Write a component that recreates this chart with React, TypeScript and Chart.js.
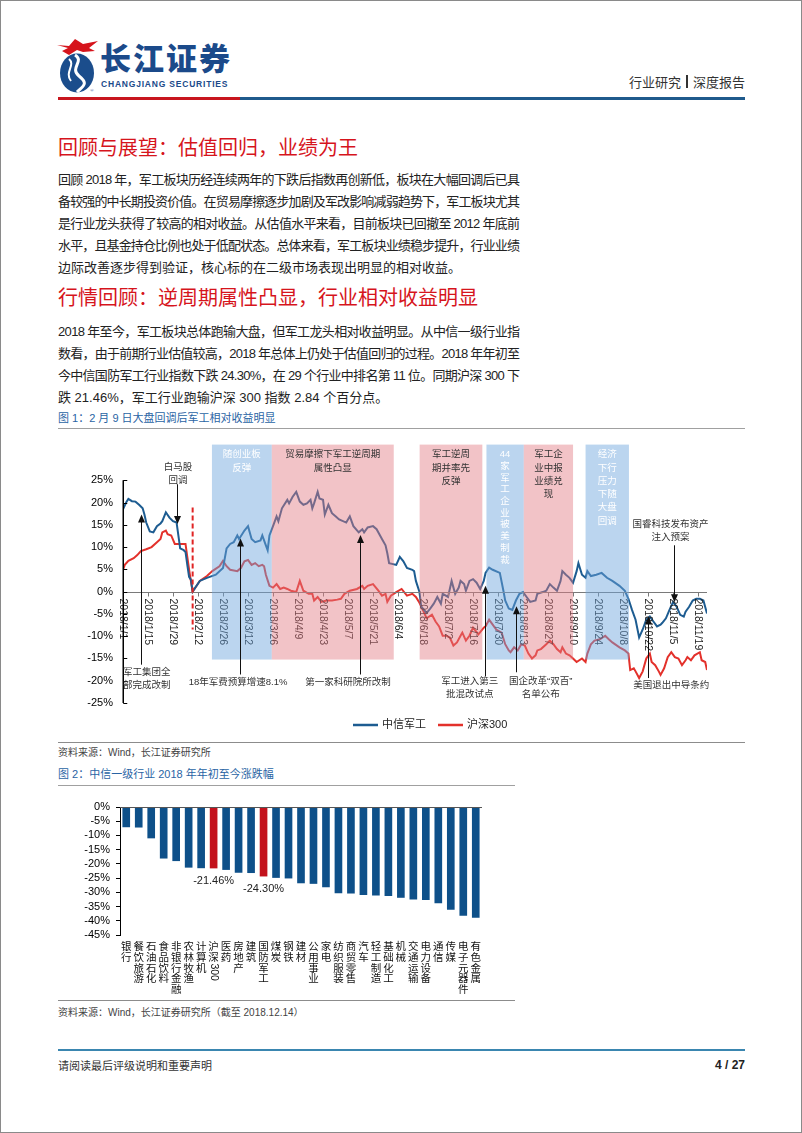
import React, { useEffect, useLayoutEffect, useRef } from 'react';
import { Chart, registerables } from 'chart.js';

Chart.register(...registerables);

const FONT = '"Liberation Sans", "Noto Sans CJK SC", sans-serif';
const CJK = '"Liberation Sans", "Noto Sans CJK SC", sans-serif';

// ---------- Figure 1 data (days since 2018/1/1, % change) ----------
const junDays = [0, 2, 3, 5, 7, 9, 11, 12, 13, 15, 17, 19, 21, 22, 24, 26, 28, 30, 31, 32, 34, 35, 36, 37, 38, 39,
  43, 47, 52, 56, 58, 60, 62, 64, 65, 68, 70, 72, 74, 77, 78, 80, 81, 82, 84, 86, 87, 89, 92, 93, 95, 97, 99, 101,
  103, 105, 106, 107, 109, 110, 112, 113, 115, 117, 119, 121, 125, 127, 129, 132, 134, 135, 137, 140, 142, 145,
  147, 148, 149, 153, 155, 157, 159, 162, 163, 164, 166, 167, 170, 172, 174, 176, 178, 179, 182, 184, 186, 188,
  189, 191, 192, 194, 196, 198, 200, 202, 203, 205, 207, 211, 213, 214, 216, 218, 220, 222, 224, 226, 228, 231,
  232, 235, 237, 239, 241, 243, 245, 246, 248, 250, 252, 254, 255, 257, 259, 260, 262, 265, 268, 271, 274, 278,
  281, 283, 285, 287, 289, 291, 293, 295, 297, 299, 301, 302, 304, 306, 308, 310, 312, 314, 315, 317, 319, 321,
  323, 325, 327];
const junValues = [18.5, 20.2, 20.8, 20.3, 20.2, 19.5, 18.7, 17.3, 15.5, 13.5, 13.3, 14.7, 15.3, 15.8, 17.8, 16.6,
  15.8, 15.5, 12.6, 9.7, 9.3, 8.9, 6.0, 3.3, 2.7, 0.0,
  2.4, 3.1, 3.8, 5.3, 9.7, 10.7, 11.1, 12.6, 11.8, 13.7, 14.7, 11.8, 11.1, 11.5, 12.6, 10.4, 9.3, 12.6, 14.7, 16.9,
  15.8, 18.7, 20.6, 19.8, 21.3, 22.4, 20.2, 19.5,
  19.8, 20.6, 18.7, 19.8, 22.4, 20.9, 20.6, 17.3, 19.5, 17.6, 16.9, 16.2, 15.5, 16.9, 14.7, 13.3, 14.0, 13.3, 14.4,
  14.7, 14.0, 11.8,
  10.4, 8.6, 6.4, 6.0, 7.8, 6.8, 5.3, 4.9, 4.6, 2.4, -0.1, -3.4, -4.8, -3.8, -2.7, -1.2, -2.7, -0.5, -1.2, 2.4, -0.5,
  0.9,
  2.4, 1.7, 0.2, 2.4, 2.8, 2.0, 0.6, 2.4, 4.2, 5.4, 4.9, 4.2, 0.2, -2.0, -3.8, -4.1, -2.0, -0.5, -0.1, -1.2, -2.3,
  -2.0,
  -0.5, -0.1, 0.2, 1.7, 0.9, 0.2, 2.4, 4.6, 3.8, 3.1, 2.0, 4.6, 6.4, 3.8, 3.1, 4.6, 3.5, 3.8, 4.2, 3.1, 2.4, 1.3,
  0.2, -1.6, -4.1, -6.3, -10.3, -8.5, -6.3, -5.6, -6.7, -7.8, -7.4, -7.0, -6.0, -4.1, -2.3, -3.4, -5.2, -5.6, -4.5,
  -3.4, -2.0, -1.6,
  -1.6, -2.0, -4.9];

const hsDays = [0, 1, 3, 6, 8, 10, 13, 16, 19, 21, 22, 24, 25, 27, 29, 32, 35, 36, 37, 38, 39,
  43, 47, 50, 54, 56, 58, 60, 64, 66, 68, 70, 72, 74, 76, 78, 79, 80, 82, 84, 86, 88, 90, 92, 94, 97, 99, 101,
  104, 106, 107, 109, 111, 114, 117, 120, 122, 124, 127, 131, 134, 135, 137, 140, 143, 145, 147, 148, 150, 153,
  156, 159, 162, 164, 166, 168, 170, 173, 175, 177, 179, 181, 183, 185, 187, 189, 190, 192, 194, 196, 199, 202,
  203, 205, 207, 209, 212, 214, 216, 217, 219, 221, 223, 225, 227, 229, 231, 232, 234, 237, 239, 241, 243, 245,
  246, 248, 250, 252, 254, 257, 259, 260, 262, 264, 267, 270, 272, 274, 278, 281, 283, 284, 286, 287, 289, 291,
  293, 295, 296, 298, 300, 301, 303, 305, 307, 309, 311, 313, 315, 316, 318, 320, 323, 324, 326, 327];
const hsValues = [4.9, 6.0, 6.9, 7.5, 8.2, 9.1, 9.5, 10.0, 11.1, 11.8, 13.3, 13.7, 12.9, 12.6, 10.7, 10.7, 10.7,
  7.8, 5.0, 2.4, 0.0,
  2.4, 3.5, 4.6, 5.7, 6.9, 5.7, 4.9, 4.6, 5.3, 6.8, 7.1, 6.0, 6.4, 5.7, 6.0, 5.7, 3.8, 1.3, 0.9, 1.7, 0.6, 0.9, 0.6,
  0.2, -0.1, 2.4, 0.2,
  -0.5, -0.5, -2.0, -1.2, -2.3, -2.0, -2.0, -1.8, -1.6, -0.5, 0.2, 0.6, 1.3, 0.6, 1.3, 1.7, 0.2, -0.9, -0.5, -2.3,
  -0.9, -0.1,
  0.6, -0.9, -0.5, -1.2, -2.5, -4.2, -6.0, -5.2, -6.7, -7.8, -9.9, -9.9, -10.3, -12.1, -11.4, -9.9, -9.2, -11.0,
  -9.9, -8.1, -9.6, -8.1,
  -7.8, -6.3, -7.4, -8.5, -9.2, -11.8, -13.2, -13.6, -12.5, -13.2, -11.8, -12.1, -13.9, -15.0, -14.3, -13.2,
  -12.9, -11.8, -11.0, -11.8, -12.9, -13.6,
  -12.5, -13.9, -14.3, -15.0, -15.8, -15.0, -15.8, -13.9, -11.8, -11.0, -10.7, -9.9, -10.7, -11.4, -12.5, -13.2,
  -13.9, -17.6, -17.2, -17.9, -19.4, -17.9,
  -15.0, -13.9, -15.8, -16.5, -17.9, -18.7, -17.2, -14.7, -13.6, -14.7, -15.0, -16.5, -15.4, -14.7, -15.4, -14.3,
  -13.6, -15.4, -15.8, -17.6];

const xTickDays = [0, 14, 28, 42, 56, 70, 84, 98, 112, 126, 140, 154, 168, 182, 196, 210, 224, 238, 252, 266, 280,
  294, 308, 322];
const xTickLabels = ['2018/1/1', '2018/1/15', '2018/1/29', '2018/2/12', '2018/2/26', '2018/3/12', '2018/3/26',
  '2018/4/9', '2018/4/23', '2018/5/7', '2018/5/21', '2018/6/4', '2018/6/18', '2018/7/2', '2018/7/16', '2018/7/30',
  '2018/8/13', '2018/8/27', '2018/9/10', '2018/9/24', '2018/10/8', '2018/10/22', '2018/11/5', '2018/11/19'];
const yTicks1 = [25, 20, 15, 10, 5, 0, -5, -10, -15, -20, -25];
const xMax1 = 327;
const yMin1 = -25;
const yMax1 = 33;

// shaded periods
const boxStart = [49.8, 83.3, 166.1, 203.5, 224.4, 259.0];
const boxEnd = [83.3, 151.6, 201.2, 224.4, 252.0, 283.3];
const boxKind = ['blue', 'pink', 'pink', 'blue', 'pink', 'blue'];
const boxTop = 33;
const boxBottom = -15.25;
const boxTexts = [
  ['随创业板', '反弹'],
  ['贸易摩擦下军工逆周期', '属性凸显'],
  ['军工逆周', '期并率先', '反弹'],
  ['44', '家', '军', '工', '企', '业', '被', '美', '制', '裁'],
  ['军工企', '业中报', '业绩兑', '现'],
  ['经济', '下行', '压力', '下随', '大盘', '回调'],
];

// event annotations (day, start value, arrow tip value)
const noteArrowDays = [10.3, 30.2, 65.3, 132.5, 202.5, 220.3, 294.2, 308.5];
const noteArrowStart = [-16.4, 24.1, -18.6, -18.6, -19.0, -18.1, -19.4, 10.4];
const noteArrowTip = [17.3, 15.2, 11.9, 12.7, 1.3, -3.3, -5.6, -2.4];
const noteTextDays = [13.3, 30.8, 64.4, 126.0, 194.1, 233.9, 307.0, 306.5];
const noteTextValues = [-18.1, 28.0, -20.3, -20.3, -20.1, -20.1, -21.0, 15.2];
const noteLines = [
  ['军工集团全', '部完成改制'],
  ['白马股', '回调'],
  ['18年军费预算增速8.1%'],
  ['第一家科研院所改制'],
  ['军工进入第三', '批混改试点'],
  ['国企改革“双百”', '名单公布'],
  ['美国退出中导条约'],
  ['国睿科技发布资产', '注入预案'],
];
const dropDay = 39; // 2018/2/9
const dropFrom = 18.9;
const dropTo = -8.5;

const seriesNames = ['中信军工', '沪深300'];

// ---------- Figure 2 data ----------
const industries = ['银行', '餐饮旅游', '石油石化', '食品饮料', '非银行金融', '农林牧渔', '计算机', '沪深300', '医药',
  '房地产', '建筑', '国防军工', '煤炭', '钢铁', '建材', '公用事业', '家电', '纺织服装', '商贸零售', '汽车', '轻工制造',
  '基础化工', '机械', '交通运输', '电力设备', '通信', '传媒', '电子元器件', '有色金属'];
const changes = [-7.0, -7.1, -10.9, -18.0, -18.9, -21.2, -21.4, -21.46, -22.0, -23.0, -23.1, -24.30, -24.8, -25.0,
  -26.7, -26.9, -28.1, -30.2, -30.3, -30.8, -31.0, -31.2, -31.8, -32.4, -32.6, -33.7, -36.0, -38.1, -38.8];
const highlighted = ['沪深300', '国防军工'];
const yTicks2 = [0, -5, -10, -15, -20, -25, -30, -35, -40, -45];

const BLUE1 = '#1d5c91';
const RED1 = '#e3312b';
const PINK_FILL = 'rgba(226,122,130,0.45)';
const BLUE_FILL = 'rgba(110,165,222,0.47)';
const BAR_BLUE = '#0e5089';
const BAR_RED = '#c3121c';

function drawArrow(ctx: CanvasRenderingContext2D, x: number, yStart: number, yTip: number) {
  const dir = yTip < yStart ? -1 : 1;
  ctx.beginPath();
  ctx.moveTo(x, yStart);
  ctx.lineTo(x, yTip - dir * 6);
  ctx.stroke();
  ctx.beginPath();
  ctx.moveTo(x, yTip);
  ctx.lineTo(x - 3.5, yTip - dir * 8);
  ctx.lineTo(x + 3.5, yTip - dir * 8);
  ctx.closePath();
  ctx.fill();
}

const overlay1 = {
  id: 'overlay1',
  afterDatasetsDraw(chart: any) {
    const { ctx, scales } = chart;
    const xs = scales.x;
    const ys = scales.y;
    const X = (d: number) => xs.getPixelForValue(d);
    const Y = (v: number) => ys.getPixelForValue(v);
    ctx.save();
    // category axis at 0%
    const y0 = Math.round(Y(0)) + 0.5;
    ctx.strokeStyle = '#7a7a7a';
    ctx.lineWidth = 1;
    ctx.beginPath();
    ctx.moveTo(X(0), y0);
    ctx.lineTo(X(xMax1), y0);
    ctx.stroke();
    xTickDays.forEach((d) => {
      const px = Math.round(X(d)) + 0.5;
      ctx.beginPath();
      ctx.moveTo(px, y0);
      ctx.lineTo(px, y0 + 4);
      ctx.stroke();
    });
    ctx.fillStyle = '#222';
    ctx.font = `10.5px ${FONT}`;
    ctx.textAlign = 'left';
    ctx.textBaseline = 'middle';
    xTickDays.forEach((d, i) => {
      ctx.save();
      ctx.translate(X(d), y0 + 6);
      ctx.rotate(Math.PI / 2);
      ctx.fillText(xTickLabels[i], 0, 0);
      ctx.restore();
    });
    // shaded periods (drawn over the lines, translucent)
    const top = Y(boxTop);
    const bottom = Y(boxBottom);
    boxStart.forEach((s, i) => {
      ctx.fillStyle = boxKind[i] === 'pink' ? PINK_FILL : BLUE_FILL;
      ctx.fillRect(X(s), top, X(boxEnd[i]) - X(s), bottom - top);
    });
    ctx.font = `9.5px ${CJK}`;
    ctx.textAlign = 'center';
    boxTexts.forEach((lines, i) => {
      const cx = (X(boxStart[i]) + X(boxEnd[i])) / 2;
      const step = lines.length > 6 ? 11.7 : 13.3;
      ctx.fillStyle = boxKind[i] === 'pink' ? '#333' : '#ffffff';
      lines.forEach((t, k) => ctx.fillText(t, cx, top + 10 + k * step));
    });
    // value axis line
    ctx.strokeStyle = '#000';
    ctx.lineWidth = 1.5;
    const ax = Math.round(X(0)) + 0.25;
    ctx.beginPath();
    ctx.moveTo(ax, Y(25));
    ctx.lineTo(ax, Y(-25));
    ctx.stroke();
    ctx.lineWidth = 1;
    yTicks1.forEach((v) => {
      const py = Math.round(Y(v)) + 0.5;
      ctx.beginPath();
      ctx.moveTo(ax, py);
      ctx.lineTo(ax + 4, py);
      ctx.stroke();
    });
    // 2/9 dashed line
    ctx.strokeStyle = '#e02424';
    ctx.lineWidth = 2;
    ctx.setLineDash([5, 3]);
    ctx.beginPath();
    ctx.moveTo(X(dropDay), Y(dropFrom));
    ctx.lineTo(X(dropDay), Y(dropTo));
    ctx.stroke();
    ctx.setLineDash([]);
    // annotations
    ctx.strokeStyle = '#111';
    ctx.fillStyle = '#111';
    ctx.lineWidth = 1;
    noteArrowDays.forEach((d, i) => {
      drawArrow(ctx, Math.round(X(d)) + 0.5, Y(noteArrowStart[i]), Y(noteArrowTip[i]));
    });
    ctx.fillStyle = '#333';
    ctx.font = `9.5px ${CJK}`;
    ctx.textAlign = 'center';
    ctx.textBaseline = 'middle';
    noteLines.forEach((lines, i) => {
      lines.forEach((t, k) => ctx.fillText(t, X(noteTextDays[i]), Y(noteTextValues[i]) + k * 13.3));
    });
    // legend
    const ly = chart.height - 17;
    const lx = [295, 380];
    const colors = [BLUE1, RED1];
    ctx.font = `11px ${CJK}`;
    ctx.textAlign = 'left';
    seriesNames.forEach((name, i) => {
      ctx.strokeStyle = colors[i];
      ctx.lineWidth = 2.5;
      ctx.beginPath();
      ctx.moveTo(lx[i], ly);
      ctx.lineTo(lx[i] + 25, ly);
      ctx.stroke();
      ctx.fillStyle = '#222';
      ctx.fillText(name, lx[i] + 29, ly);
    });
    ctx.restore();
  },
};

function drawVertical(ctx: CanvasRenderingContext2D, text: string, cx: number, top: number, step: number) {
  const parts = text.match(/[0-9A-Za-z.]+|./g) || [];
  let y = top;
  parts.forEach((p) => {
    if (/^[0-9A-Za-z.]+$/.test(p)) {
      const w = ctx.measureText(p).width;
      ctx.save();
      ctx.translate(cx, y);
      ctx.rotate(Math.PI / 2);
      ctx.textAlign = 'left';
      ctx.textBaseline = 'middle';
      ctx.fillText(p, 0, 0);
      ctx.restore();
      y += w + 1;
    } else {
      ctx.textAlign = 'center';
      ctx.textBaseline = 'top';
      ctx.fillText(p, cx, y);
      y += step;
    }
  });
}

const overlay2 = {
  id: 'overlay2',
  afterDatasetsDraw(chart: any) {
    const { ctx, scales, chartArea } = chart;
    const xs = scales.x;
    const ys = scales.y;
    ctx.save();
    const y0 = Math.round(ys.getPixelForValue(0)) + 0.5;
    ctx.strokeStyle = '#555';
    ctx.lineWidth = 1;
    ctx.beginPath();
    ctx.moveTo(chartArea.left, y0);
    ctx.lineTo(chartArea.right, y0);
    ctx.stroke();
    ctx.fillStyle = '#111';
    ctx.font = `10.5px ${CJK}`;
    industries.forEach((name, i) => {
      drawVertical(ctx, name, xs.getPixelForValue(i), chartArea.bottom + 7, 10.7);
    });
    ctx.font = `11px ${FONT}`;
    ctx.textAlign = 'center';
    ctx.textBaseline = 'middle';
    ctx.fillStyle = '#222';
    industries.forEach((name, i) => {
      if (highlighted.includes(name)) {
        ctx.fillText(changes[i].toFixed(2) + '%', xs.getPixelForValue(i), ys.getPixelForValue(changes[i]) + 12.5);
      }
    });
    ctx.restore();
  },
};

const pageText: React.CSSProperties = {
  position: 'absolute',
  whiteSpace: 'nowrap',
  fontFamily: CJK,
  color: '#222',
};

export default function App() {
  const c1 = useRef<HTMLCanvasElement>(null);
  const c2 = useRef<HTMLCanvasElement>(null);
  const pageRef = useRef<HTMLDivElement>(null);

  useLayoutEffect(() => {
    const root = pageRef.current;
    if (!root) return;
    root.querySelectorAll<HTMLElement>('[data-fit]').forEach((el) => {
      const target = Number(el.dataset.fit);
      el.style.letterSpacing = '0px';
      const w = el.getBoundingClientRect().width;
      const n = Array.from(el.textContent || '').length;
      if (n > 1) el.style.letterSpacing = `${(target - w) / (n - 1)}px`;
    });
  }, []);

  useEffect(() => {
    const charts: Chart[] = [];
    if (c1.current) {
      charts.push(new Chart(c1.current, {
        type: 'line',
        data: {
          datasets: [
            {
              label: seriesNames[0],
              data: junDays.map((d, i) => ({ x: d, y: junValues[i] })),
              borderColor: BLUE1,
              borderWidth: 2,
              pointRadius: 0,
              tension: 0,
            },
            {
              label: seriesNames[1],
              data: hsDays.map((d, i) => ({ x: d, y: hsValues[i] })),
              borderColor: RED1,
              borderWidth: 2,
              pointRadius: 0,
              tension: 0,
            },
          ],
        },
        options: {
          animation: false,
          responsive: false,
          layout: { padding: { top: 8, right: 39, bottom: 0, left: 0 } },
          plugins: { legend: { display: false }, tooltip: { enabled: false } },
          scales: {
            x: {
              type: 'linear',
              min: 0,
              max: xMax1,
              grid: { display: false, drawTicks: false },
              border: { display: false },
              ticks: { display: false },
              afterFit: (s: any) => { s.height = 39; },
            },
            y: {
              min: yMin1,
              max: yMax1,
              afterBuildTicks: (s: any) => { s.ticks = yTicks1.map((v) => ({ value: v })); },
              ticks: {
                autoSkip: false,
                callback: (v: any) => `${v}%`,
                color: '#000',
                font: { family: FONT, size: 11 },
                padding: 10,
              },
              grid: { display: false, drawTicks: false },
              border: { display: false },
              afterFit: (s: any) => { s.width = 65; },
            },
          },
        },
        plugins: [overlay1],
      } as any));
    }
    if (c2.current) {
      charts.push(new Chart(c2.current, {
        type: 'bar',
        data: {
          labels: industries,
          datasets: [{
            data: changes,
            backgroundColor: industries.map((n) => (highlighted.includes(n) ? BAR_RED : BAR_BLUE)),
            barThickness: 7,
          }],
        },
        options: {
          animation: false,
          responsive: false,
          layout: { padding: { top: 17, right: 33, bottom: 0, left: 0 } },
          plugins: { legend: { display: false }, tooltip: { enabled: false } },
          scales: {
            x: {
              grid: { display: false, drawTicks: false },
              border: { display: false },
              ticks: { display: false },
              afterFit: (s: any) => { s.height = 63; },
            },
            y: {
              min: -45,
              max: 0,
              afterBuildTicks: (s: any) => { s.ticks = yTicks2.map((v) => ({ value: v })); },
              ticks: {
                autoSkip: false,
                callback: (v: any) => `${v}%`,
                color: '#000',
                font: { family: FONT, size: 11 },
                padding: 6,
              },
              grid: { drawOnChartArea: false, drawTicks: true, tickLength: 4, color: '#000' },
              border: { display: true, color: '#000', width: 1 },
              afterFit: (s: any) => { s.width = 62; },
            },
          },
        },
        plugins: [overlay2],
      } as any));
    }
    return () => charts.forEach((c) => c.destroy());
  }, []);

  const p1 = [
    '回顾 2018 年，军工板块历经连续两年的下跌后指数再创新低，板块在大幅回调后已具',
    '备较强的中长期投资价值。在贸易摩擦逐步加剧及军改影响减弱趋势下，军工板块尤其',
    '是行业龙头获得了较高的相对收益。从估值水平来看，目前板块已回撤至 2012 年底前',
    '水平，且基金持仓比例也处于低配状态。总体来看，军工板块业绩稳步提升，行业业绩',
    '边际改善逐步得到验证，核心标的在二级市场表现出明显的相对收益。',
  ];
  const p2 = [
    '2018 年至今，军工板块总体跑输大盘，但军工龙头相对收益明显。从中信一级行业指',
    '数看，由于前期行业估值较高，2018 年总体上仍处于估值回归的过程。2018 年年初至',
    '今中信国防军工行业指数下跌 24.30%，在 29 个行业中排名第 11 位。同期沪深 300 下',
    '跌 21.46%，军工行业跑输沪深 300 指数 2.84 个百分点。',
  ];
  const p1Y = [180, 202, 224, 246, 268];
  const p2Y = [332, 354, 376, 398];

  return (
    <div
      ref={pageRef}
      style={{ position: 'absolute', left: 0, top: 0, width: 802, height: 1133, background: '#fff', overflow: 'hidden' }}
    >
      {/* logo */}
      <svg style={{ position: 'absolute', left: 54, top: 36 }} width="48" height="58" viewBox="0 0 48 58">
        <ellipse cx="23" cy="37" rx="17" ry="19.5" fill="#1b4d8c" />
        <path d="M21 19 C 31 25, 15 32, 25 40 S 29 50, 23 56" stroke="#fff" strokeWidth="3" fill="none" />
        <path d="M15 23 C 22 29, 10 36, 17 45" stroke="#fff" strokeWidth="2" fill="none" />
        <path d="M3 9 L15 10 L21 3 L29 8 L44 5 L35 12 L41 15 L29 16 L23 14 L15 19 L8 15 L14 12 Z" fill="#d6141c" />
        <text x="36" y="56" fontSize="5" fill="#1b4d8c">®</text>
      </svg>
      <div style={{ ...pageText, left: 100, top: 41, fontSize: 31, fontWeight: 900, color: '#1b4a8a', lineHeight: '38px', letterSpacing: 2 }}>
        长江证券
      </div>
      <div style={{ ...pageText, left: 101, top: 79, fontSize: 8.5, fontWeight: 700, color: '#1b4a8a', lineHeight: '10px', letterSpacing: 0.8, fontFamily: FONT }}>
        CHANGJIANG SECURITIES
      </div>
      <div style={{ ...pageText, right: 57, top: 75, fontSize: 13, lineHeight: '16px', color: '#333' }}>
        行业研究<span style={{ display: 'inline-block', width: 2, height: 13, background: '#333', margin: '0 5px', verticalAlign: -1 }} />深度报告
      </div>
      <div style={{ position: 'absolute', left: 58, top: 97, width: 182, height: 3, background: '#c8161e' }} />
      <div style={{ position: 'absolute', left: 240, top: 97, width: 505, height: 3, background: '#1f5a8c' }} />

      {/* section 1 */}
      <div style={{ ...pageText, left: 58, top: 136, fontSize: 20, lineHeight: '24px', color: '#d6141c' }}>
        回顾与展望：估值回归，业绩为王
      </div>
      {p1.map((t, i) => (
        <span
          key={`p1${i}`}
          data-fit={i < p1.length - 1 ? 462 : undefined}
          style={{ ...pageText, left: 58, top: p1Y[i] - 11, fontSize: 13, lineHeight: '22px' }}
        >
          {t}
        </span>
      ))}

      {/* section 2 */}
      <div style={{ ...pageText, left: 58, top: 286, fontSize: 20, lineHeight: '24px', color: '#d6141c' }}>
        行情回顾：逆周期属性凸显，行业相对收益明显
      </div>
      {p2.map((t, i) => (
        <span
          key={`p2${i}`}
          data-fit={i < p2.length - 1 ? 462 : undefined}
          style={{ ...pageText, left: 58, top: p2Y[i] - 11, fontSize: 13, lineHeight: '22px' }}
        >
          {t}
        </span>
      ))}

      {/* figure 1 */}
      <div style={{ ...pageText, left: 58, top: 411, fontSize: 11, lineHeight: '14px', color: '#2a64a4' }}>
        图 1：2 月 9 日大盘回调后军工相对收益明显
      </div>
      <div style={{ position: 'absolute', left: 58, top: 428, width: 687, height: 1, background: '#a0a0a0' }} />
      <canvas ref={c1} width={688} height={314} style={{ position: 'absolute', left: 58, top: 428, width: 688, height: 314 }} />
      <div style={{ position: 'absolute', left: 58, top: 742, width: 687, height: 1, background: '#8c8c8c' }} />
      <div style={{ ...pageText, left: 58, top: 746, fontSize: 10, lineHeight: '13px', color: '#444' }}>
        资料来源：Wind，长江证券研究所
      </div>

      {/* figure 2 */}
      <div style={{ ...pageText, left: 58, top: 767, fontSize: 11, lineHeight: '14px', color: '#2a64a4' }}>
        图 2：中信一级行业 2018 年年初至今涨跌幅
      </div>
      <div style={{ position: 'absolute', left: 58, top: 785, width: 457, height: 1, background: '#a0a0a0' }} />
      <canvas ref={c2} width={457} height={208} style={{ position: 'absolute', left: 58, top: 790, width: 457, height: 208 }} />
      <div style={{ position: 'absolute', left: 58, top: 1000, width: 457, height: 1, background: '#8c8c8c' }} />
      <div style={{ ...pageText, left: 58, top: 1006, fontSize: 10, lineHeight: '13px', color: '#444' }}>
        资料来源：Wind，长江证券研究所（截至 2018.12.14）
      </div>

      {/* footer */}
      <div style={{ position: 'absolute', left: 58, top: 1049, width: 687, height: 1.5, background: '#3a86b0' }} />
      <div style={{ ...pageText, left: 58, top: 1059, fontSize: 11, lineHeight: '14px', color: '#333' }}>
        请阅读最后评级说明和重要声明
      </div>
      <div style={{ ...pageText, right: 57, top: 1058, fontSize: 12, lineHeight: '15px', fontWeight: 700, color: '#222', fontFamily: FONT }}>
        4 / 27
      </div>

      {/* page border */}
      <div style={{ position: 'absolute', left: 0, top: 0, width: 802, height: 1133, border: '1px solid #8a8a8a', boxSizing: 'border-box', pointerEvents: 'none' }} />
    </div>
  );
}
